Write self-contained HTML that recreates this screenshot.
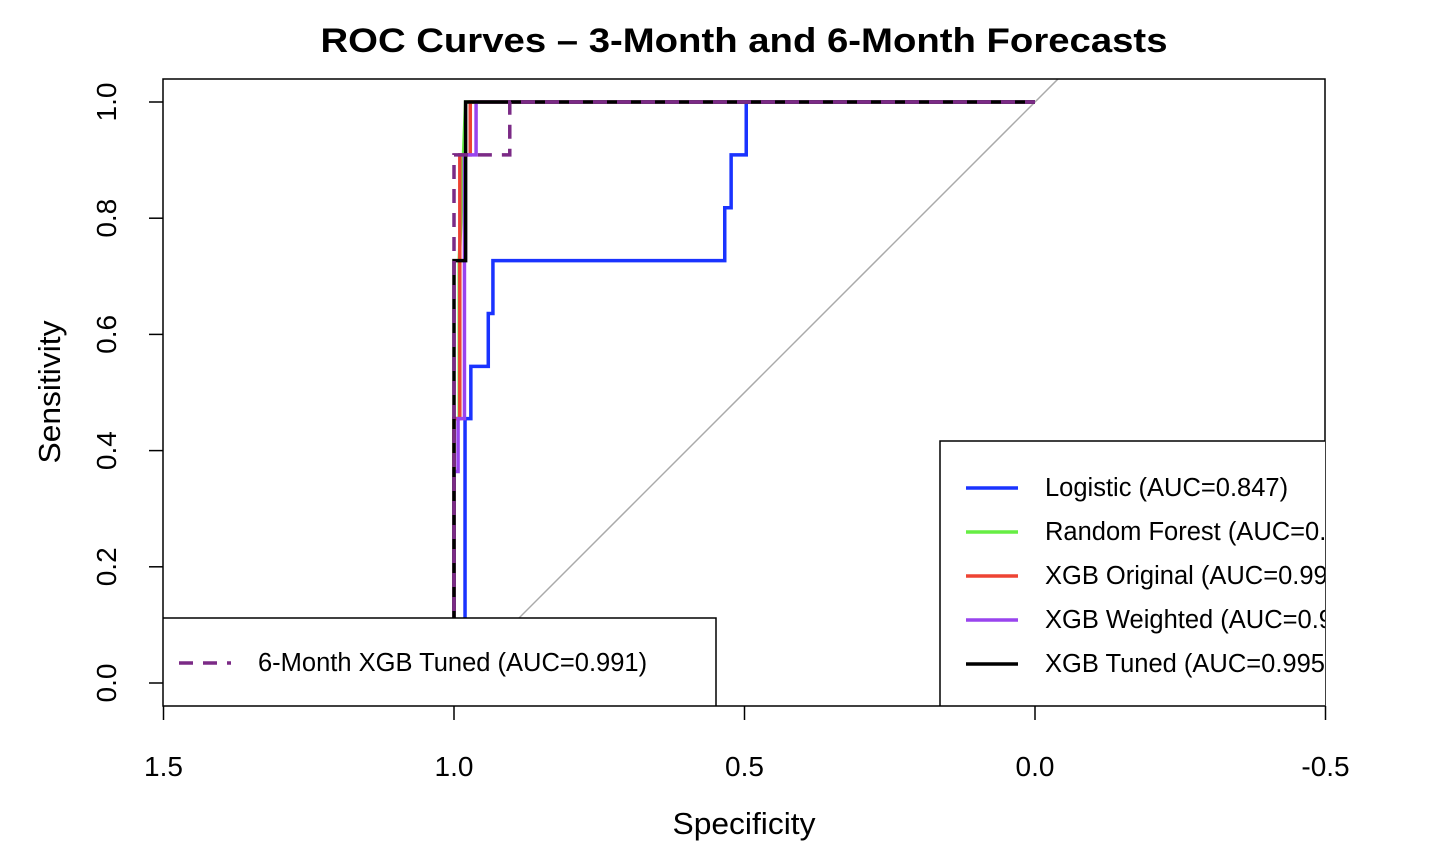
<!DOCTYPE html>
<html><head><meta charset="utf-8"><style>
html,body{margin:0;padding:0;background:#fff}
svg{display:block;font-family:"Liberation Sans",Arial,sans-serif}
</style></head><body>
<svg id="chart" width="1432" height="862" xmlns="http://www.w3.org/2000/svg">
<defs><clipPath id="pc"><rect x="163" y="79" width="1162" height="627"/></clipPath></defs>
<text x="744" y="52" text-anchor="middle" font-size="34" font-weight="bold" textLength="847" lengthAdjust="spacingAndGlyphs">ROC Curves – 3-Month and 6-Month Forecasts</text>
<text x="744" y="834" text-anchor="middle" font-size="31" textLength="143" lengthAdjust="spacingAndGlyphs">Specificity</text>
<text transform="translate(60,392) rotate(-90)" text-anchor="middle" font-size="31" textLength="143" lengthAdjust="spacingAndGlyphs">Sensitivity</text>
<g id="axes"></g>
<g id="plot" clip-path="url(#pc)"></g>
<rect x="163" y="79" width="1162" height="627" fill="none" stroke="#000" stroke-width="1.5"/>
</svg>
<script>
const xTicks=[1.5,1.0,0.5,0.0,-0.5];
const xTickLabels=["1.5","1.0","0.5","0.0","-0.5"];
const yTicks=[0,0.2,0.4,0.6,0.8,1.0];
const yTickLabels=["0.0","0.2","0.4","0.6","0.8","1.0"];
const seriesNames=["Logistic","Random Forest","XGB Original","XGB Weighted","XGB Tuned","6-Month XGB Tuned"];
const seriesAUC=["0.847","0.","0.99","0.9","0.995","0.991"];
const logisticSpec=[0.981,0.981,0.971,0.971,0.941,0.941,0.933,0.933,0.534,0.534,0.523,0.523,0.497,0.497,0];
const logisticSens=[0,0.455,0.455,0.545,0.545,0.636,0.636,0.727,0.727,0.818,0.818,0.909,0.909,1,1];
const rfSpec=[1,1,0.991,0.991,0.98,0];
const rfSens=[0,0.455,0.455,0.727,1,1];
const xgbOrigSpec=[1,1,0.99,0.99,0.972,0.972,0];
const xgbOrigSens=[0,0.455,0.455,0.909,0.909,1,1];
const xgbWSpec=[1,1,0.993,0.993,0.982,0.982,0.962,0.962,0];
const xgbWSens=[0,0.364,0.364,0.455,0.455,0.909,0.909,1,1];
const xgbTSpec=[1,1,0.98,0.98,0];
const xgbTSens=[0,0.727,0.727,1,1];
const m6Spec=[1,1,0.904,0.904,0];
const m6Sens=[0,0.909,0.909,1,1];
const NS="http://www.w3.org/2000/svg";
const X=s=>1035-s*581, Y=v=>683-v*581;
const axes=document.getElementById('axes'), plot=document.getElementById('plot'), svg=document.getElementById('chart');
function mk(tag,at,parent){const e=document.createElementNS(NS,tag);for(const k in at)e.setAttribute(k,at[k]);parent.appendChild(e);return e;}
xTicks.forEach((t,i)=>{
 const l=mk('line',{x1:X(t),x2:X(t),y1:706,y2:720,stroke:'#000','stroke-width':1.5},axes);
 
 
 const tx=mk('text',{x:X(t),y:776,'text-anchor':'middle','font-size':28},axes);tx.textContent=xTickLabels[i];
 
 
});
yTicks.forEach((t,i)=>{
 const l=mk('line',{x1:149,x2:163,y1:Y(t),y2:Y(t),stroke:'#000','stroke-width':1.5},axes);
 
 
 const tx=mk('text',{transform:`translate(116,${Y(t)}) rotate(-90)`,'text-anchor':'middle','font-size':28},axes);tx.textContent=yTickLabels[i];
 
 
});
const d=mk('line',{x1:X(1.1),y1:Y(-0.1),x2:X(-0.1),y2:Y(1.1),stroke:'#aaa','stroke-width':1.5},plot);


function curve(sp,se,color,name,dash){
 const p=mk('polyline',{points:sp.map((s,i)=>X(s)+','+Y(se[i])).join(' '),fill:'none',stroke:color,'stroke-width':3.5,'stroke-dasharray':dash||'none'},plot);
 
 
}
curve(logisticSpec,logisticSens,'#1a33ff','logistic-curve');
curve(rfSpec,rfSens,'#66ee44','random-forest-curve');
curve(xgbOrigSpec,xgbOrigSens,'#ee4433','xgb-original-curve');
curve(xgbWSpec,xgbWSens,'#9944ee','xgb-weighted-curve');
curve(xgbTSpec,xgbTSens,'#000','xgb-tuned-curve');
curve(m6Spec,m6Sens,'#7b2a86','six-month-xgb-tuned-curve','14,10');
const colors=['#1a33ff','#66ee44','#ee4433','#9944ee','#000'];
const fullNames=["Logistic (AUC=0.847)","Random Forest (AUC=0.988)","XGB Original (AUC=0.993)","XGB Weighted (AUC=0.991)","XGB Tuned (AUC=0.995)"];
const lg=mk('g',{'clip-path':'url(#pc)'},svg);


mk('rect',{x:940,y:441,width:420,height:265,fill:'#fff',stroke:'#000','stroke-width':1.5},lg);
for(let i=0;i<5;i++){
 const y=488+i*44;
 mk('line',{x1:966,x2:1018,y1:y,y2:y,stroke:colors[i],'stroke-width':3.5},lg);
 const t=mk('text',{x:1045,y:y+8,'font-size':25.5},lg);t.textContent=fullNames[i];
 
 
}
const lg2=mk('g',{'clip-path':'url(#pc)'},svg);


mk('rect',{x:163,y:618,width:553,height:88,fill:'#fff',stroke:'#000','stroke-width':1.5},lg2);
mk('line',{x1:179,x2:231,y1:663,y2:663,stroke:'#7b2a86','stroke-width':3.5,'stroke-dasharray':'14,10'},lg2);
const t6=mk('text',{x:258,y:671,'font-size':25.5},lg2);t6.textContent=seriesNames[5]+' (AUC='+seriesAUC[5]+')';


</script>
</body></html>
